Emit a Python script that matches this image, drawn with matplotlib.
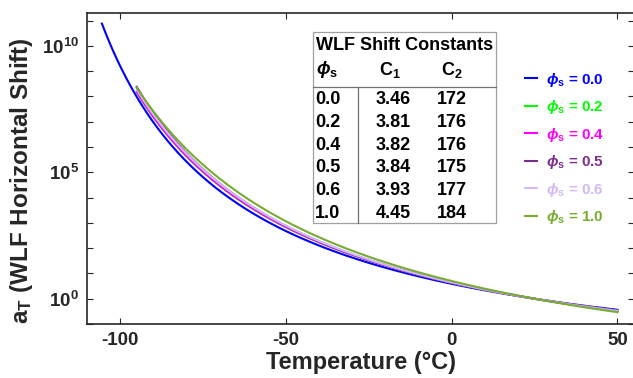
import numpy as np
import matplotlib
matplotlib.use('Agg')
import matplotlib.pyplot as plt
from matplotlib.ticker import FixedLocator, FuncFormatter
from matplotlib.lines import Line2D
from matplotlib.patches import Rectangle

plt.rcParams['font.family'] = ['Liberation Sans', 'DejaVu Sans']
plt.rcParams['font.weight'] = 'bold'
plt.rcParams['axes.unicode_minus'] = False
plt.rcParams['mathtext.fontset'] = 'custom'
plt.rcParams['mathtext.rm'] = 'Liberation Sans:bold'
plt.rcParams['mathtext.bf'] = 'Liberation Sans:bold'
plt.rcParams['mathtext.it'] = 'Liberation Sans:italic'

# Constantes WLF (tabela do gráfico)
phi_s = ['0.0', '0.2', '0.4', '0.5', '0.6', '1.0']
c1 = [3.46, 3.81, 3.82, 3.84, 3.93, 4.45]
c2 = [172, 176, 176, 175, 177, 184]
t_inicio = [-105.5, -95, -95, -95, -95, -95]
t_fim = 50
t_ref = 25
cores = ['#0000ff', '#00ff00', '#ff00ff', '#7e2f8e', '#d2b9f7', '#77ac30']

W, H = 633, 378
fig = plt.figure(figsize=(W / 100, H / 100), dpi=100)
ax = fig.add_axes([87 / W, (H - 324) / H, (634 - 87) / W, (324 - 13) / H])

for i in range(len(phi_s)):
    T = np.linspace(t_inicio[i], t_fim, 400)
    dT = T - t_ref
    log_aT = -c1[i] * dT / (c2[i] + dT)
    ax.plot(T, 10 ** log_aT, color=cores[i], lw=1.5,
            label=r'$\phi_{\mathbf{s}}$ = ' + phi_s[i])

ax.set_yscale('log')
ax.set_xlim(-110, 55)
ax.set_ylim(1e-1, 10 ** 11.3)
ax.xaxis.set_major_locator(FixedLocator([-100, -50, 0, 50]))
ax.yaxis.set_major_locator(FixedLocator([10.0 ** k for k in range(-1, 12)]))
ax.yaxis.set_minor_locator(FixedLocator([]))
ax.yaxis.set_major_formatter(FuncFormatter(
    lambda v, p: r'$10^{%d}$' % round(np.log10(v)) if round(np.log10(v)) in (0, 5, 10) else ''))
ax.tick_params(direction='in', length=4, width=0.8, top=True, right=True,
               labelsize=13.5, colors='#262626', pad=6)
for s in ax.spines.values():
    s.set_color('#262626')
    s.set_linewidth(1.2)

ax.set_xlabel('Temperature (°C)', fontsize=17, fontweight='bold', color='#262626', labelpad=1)
ax.set_ylabel(r'a$_\mathrm{T}$ (WLF Horizontal Shift)', fontsize=17.5, fontweight='bold',
              color='#262626')
ax.yaxis.set_label_coords(-0.095, 0.46)

leg = ax.legend(loc='upper left', bbox_to_anchor=(511 / W, 1 - 57 / H),
                bbox_transform=fig.transFigure, frameon=False, fontsize=11,
                handlelength=0.8, handletextpad=0.6, labelspacing=0.62,
                labelcolor='linecolor')

# Tabela das constantes
def px(x, y):
    return x / W, 1 - y / H

fig.patches.append(Rectangle(px(313, 223), (496 - 313) / W, (223 - 32) / H,
                             transform=fig.transFigure, facecolor='white',
                             edgecolor='#a0a0a0', lw=0.9, zorder=3))
fig.lines.append(Line2D([313 / W, 496 / W], [1 - 87 / H] * 2, transform=fig.transFigure,
                        color='#707070', lw=0.9, zorder=4))
fig.lines.append(Line2D([358 / W] * 2, [1 - 87 / H, 1 - 223 / H], transform=fig.transFigure,
                        color='#707070', lw=0.9, zorder=4))

fig.text(*px(316, 46), 'WLF Shift Constants', fontsize=13, fontweight='bold',
         ha='left', va='center', zorder=5)
fig.text(*px(316, 70), r'$\phi_{\mathbf{s}}$', fontsize=13, ha='left', va='center', zorder=5)
fig.text(*px(390, 70), r'C$_{1}$', fontsize=13, ha='center', va='center', zorder=5)
fig.text(*px(452, 70), r'C$_{2}$', fontsize=13, ha='center', va='center', zorder=5)
for i in range(len(phi_s)):
    y = 100 + 22.6 * i
    fig.text(*px(315, y), phi_s[i], fontsize=13, fontweight='bold', ha='left', va='center', zorder=5)
    fig.text(*px(393, y), '%.2f' % c1[i], fontsize=13, fontweight='bold', ha='center', va='center', zorder=5)
    fig.text(*px(452, y), '%d' % c2[i], fontsize=13, fontweight='bold', ha='center', va='center', zorder=5)

fig.savefig('out.png', dpi=100)
